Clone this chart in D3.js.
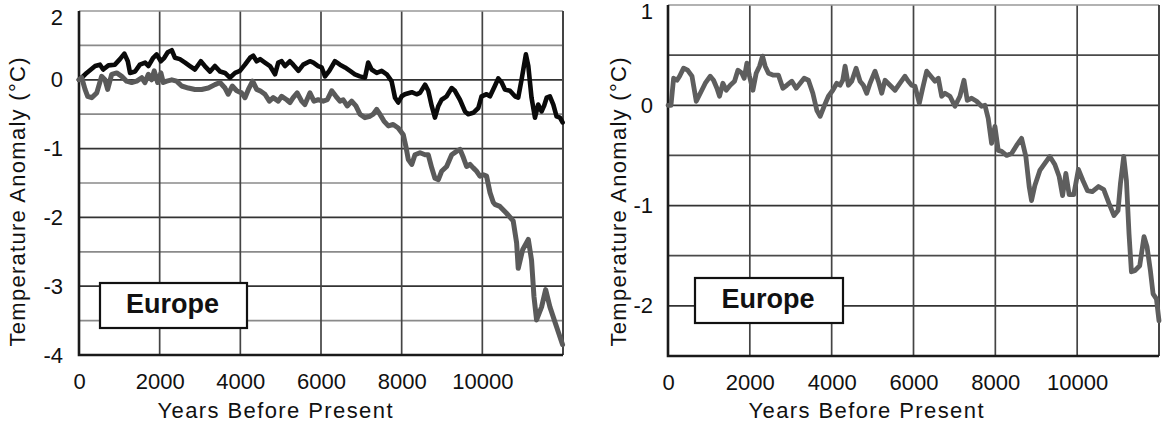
<!DOCTYPE html>
<html>
<head>
<meta charset="utf-8">
<script src="https://cdn.jsdelivr.net/npm/d3@7"></script>
<style>
    body { margin: 0; background: #fff; }
    svg { display: block; font-family: "Liberation Sans", Arial, sans-serif; }
</style>
</head>
<body>
<svg id="chart"></svg>
<script>
// years before present, temperature anomaly (°C)
let leftBlack = [
    [0, 0.0], [67, 0.03], [190, 0.1], [400, 0.2], [520, 0.22], [600, 0.15], [730, 0.21], [890, 0.22],
    [1015, 0.3], [1125, 0.38], [1210, 0.27], [1265, 0.1], [1390, 0.12], [1510, 0.22], [1640, 0.25],
    [1720, 0.2], [1840, 0.32], [1925, 0.37], [2030, 0.27], [2115, 0.32], [2200, 0.4], [2300, 0.43],
    [2380, 0.32], [2500, 0.3], [2630, 0.25], [2750, 0.2], [2875, 0.15], [3020, 0.27], [3120, 0.2],
    [3250, 0.12], [3370, 0.2], [3500, 0.12], [3620, 0.1], [3740, 0.03], [3870, 0.1], [3990, 0.13],
    [4115, 0.22], [4240, 0.32], [4320, 0.35], [4405, 0.27], [4490, 0.3], [4610, 0.25], [4735, 0.2],
    [4860, 0.08], [4940, 0.25], [5025, 0.27], [5105, 0.2], [5230, 0.27], [5310, 0.22], [5440, 0.13],
    [5560, 0.22], [5725, 0.27], [5810, 0.25], [5930, 0.2], [6015, 0.18], [6100, 0.05], [6205, 0.13],
    [6345, 0.27], [6470, 0.22], [6595, 0.18], [6720, 0.13], [6840, 0.08], [6965, 0.05], [7090, 0.03],
    [7170, 0.25], [7255, 0.15], [7380, 0.1], [7505, 0.13], [7630, 0.08], [7750, -0.02], [7835, -0.26],
    [7915, -0.33], [8000, -0.24], [8080, -0.21], [8250, -0.18], [8370, -0.21], [8455, -0.19],
    [8580, -0.07], [8660, -0.16], [8745, -0.38], [8825, -0.55], [8910, -0.38], [8990, -0.29],
    [9115, -0.24], [9240, -0.12], [9320, -0.16], [9445, -0.29], [9570, -0.46], [9650, -0.5],
    [9775, -0.48], [9900, -0.41], [9980, -0.24], [10105, -0.21], [10190, -0.24], [10310, -0.09],
    [10395, 0.02], [10480, -0.04], [10560, -0.14], [10685, -0.16], [10810, -0.24], [10890, -0.26],
    [10975, 0.01], [11080, 0.37], [11140, 0.2], [11220, -0.26], [11305, -0.55], [11385, -0.36],
    [11470, -0.46], [11530, -0.38], [11595, -0.26], [11675, -0.24], [11760, -0.36], [11840, -0.53],
    [11925, -0.55], [11990, -0.62]
];

let leftGray = [
    [0, 0.0], [67, 0.03], [150, -0.14], [215, -0.24], [315, -0.26], [440, -0.19], [560, 0.05],
    [645, 0.0], [710, -0.14], [810, 0.08], [935, 0.1], [1060, 0.05], [1180, -0.02], [1305, -0.04],
    [1430, -0.02], [1555, 0.03], [1635, -0.04], [1720, 0.08], [1800, 0.0], [1865, 0.13], [1950, -0.04],
    [2030, 0.1], [2090, -0.04], [2175, -0.02], [2300, 0.0], [2420, -0.02], [2545, -0.09], [2710, -0.12],
    [2875, -0.14], [3040, -0.14], [3205, -0.12], [3370, -0.07], [3495, -0.04], [3620, -0.12],
    [3700, -0.21], [3800, -0.09], [3910, -0.16], [4030, -0.19], [4115, -0.26], [4200, -0.14],
    [4305, -0.02], [4405, -0.14], [4490, -0.16], [4610, -0.21], [4720, -0.31], [4815, -0.26],
    [4940, -0.31], [5025, -0.24], [5150, -0.29], [5230, -0.33], [5310, -0.26], [5410, -0.19],
    [5520, -0.31], [5600, -0.36], [5725, -0.19], [5825, -0.31], [5930, -0.29], [6055, -0.31],
    [6155, -0.29], [6265, -0.16], [6370, -0.24], [6470, -0.31], [6550, -0.29], [6650, -0.38],
    [6760, -0.31], [6865, -0.38], [6965, -0.5], [7090, -0.55], [7215, -0.53], [7295, -0.5],
    [7380, -0.43], [7460, -0.5], [7560, -0.6], [7670, -0.67], [7790, -0.65], [7915, -0.7],
    [8040, -0.8], [8105, -0.97], [8165, -1.16], [8250, -1.23], [8330, -1.09], [8455, -1.06],
    [8580, -1.09], [8660, -1.09], [8745, -1.28], [8825, -1.43], [8910, -1.45], [8990, -1.33],
    [9115, -1.26], [9240, -1.09], [9360, -1.04], [9445, -1.01], [9530, -1.13], [9610, -1.26],
    [9695, -1.23], [9775, -1.28], [9860, -1.33], [9940, -1.4], [10025, -1.38], [10105, -1.4],
    [10190, -1.64], [10270, -1.78], [10310, -1.81], [10435, -1.84], [10600, -1.94], [10765, -2.05],
    [10850, -2.37], [10890, -2.74], [11000, -2.47], [11140, -2.32], [11220, -2.62], [11280, -3.15],
    [11345, -3.49], [11470, -3.3], [11570, -3.05], [11675, -3.3], [11840, -3.59], [11990, -3.85]
];

let rightGray = [
    [0, 0.0], [73, 0.0], [137, 0.27], [220, 0.25], [283, 0.29], [381, 0.37], [478, 0.35], [586, 0.29],
    [691, 0.04], [789, 0.12], [911, 0.22], [1033, 0.29], [1113, 0.25], [1196, 0.17], [1260, 0.09],
    [1342, 0.22], [1423, 0.15], [1521, 0.2], [1626, 0.24], [1709, 0.35], [1806, 0.32], [1862, 0.27],
    [1928, 0.42], [1992, 0.29], [2075, 0.15], [2155, 0.32], [2237, 0.39], [2310, 0.49], [2375, 0.39],
    [2456, 0.32], [2578, 0.3], [2700, 0.3], [2807, 0.17], [2905, 0.2], [3027, 0.24], [3132, 0.17],
    [3230, 0.22], [3327, 0.27], [3432, 0.25], [3540, 0.12], [3637, -0.05], [3718, -0.11], [3815, -0.01],
    [3920, 0.09], [4028, 0.15], [4125, 0.22], [4206, 0.2], [4272, 0.25], [4328, 0.39], [4409, 0.2],
    [4491, 0.24], [4597, 0.37], [4694, 0.24], [4775, 0.2], [4857, 0.12], [4938, 0.22], [5060, 0.34],
    [5141, 0.24], [5224, 0.12], [5304, 0.25], [5426, 0.2], [5548, 0.15], [5670, 0.22], [5792, 0.29],
    [5873, 0.24], [5955, 0.2], [6037, 0.19], [6142, 0.02], [6224, 0.17], [6322, 0.34], [6403, 0.3],
    [6525, 0.24], [6606, 0.27], [6689, 0.09], [6769, 0.12], [6891, 0.09], [7013, -0.01], [7135, 0.09],
    [7233, 0.25], [7314, 0.05], [7421, 0.07], [7543, 0.04], [7665, -0.01], [7746, 0.0], [7826, -0.13],
    [7909, -0.38], [7990, -0.21], [8071, -0.45], [8153, -0.46], [8275, -0.5], [8397, -0.48],
    [8519, -0.4], [8641, -0.33], [8746, -0.51], [8827, -0.81], [8885, -0.95], [8966, -0.8],
    [9088, -0.65], [9210, -0.58], [9332, -0.51], [9454, -0.59], [9560, -0.71], [9643, -0.9],
    [9723, -0.68], [9804, -0.89], [9918, -0.89], [10030, -0.64], [10140, -0.75], [10250, -0.85],
    [10370, -0.86], [10520, -0.81], [10650, -0.84], [10780, -0.98], [10900, -1.1], [10999, -1.05],
    [11058, -0.78], [11138, -0.51], [11204, -0.75], [11267, -1.28], [11326, -1.66], [11407, -1.65],
    [11529, -1.6], [11634, -1.31], [11707, -1.41], [11790, -1.65], [11855, -1.88], [11937, -1.93],
    [12000, -2.15]
];

let xTicks = [0, 2000, 4000, 6000, 8000, 10000];
let xGrid = [2000, 4000, 6000, 8000, 10000];

// the left panel's top label reads "2" in the source picture
let leftYTicks = [1, 0, -1, -2, -3, -4];
let leftYTickLabels = ["2", "0", "-1", "-2", "-3", "-4"];
let leftYGrid = [0.5, 0, -0.5, -1, -1.5, -2, -2.5, -3, -3.5];

let rightYTicks = [1, 0, -1, -2];
let rightYTickLabels = ["1", "0", "-1", "-2"];
let rightYGrid = [0.5, 0, -0.5, -1, -1.5, -2];

let xTitle = "Years Before Present";
let yTitle = "Temperature Anomaly (\u00b0C)";
let regionLabel = "Europe";

let svg = d3.select("#chart").attr("width", 1167).attr("height", 427);
svg.append("rect").attr("width", 1167).attr("height", 427).attr("fill", "#fff");

let panel = function (options) {
    let self = {};

    for (let key in options) {
        self[key] = options[key];
    }

    self.x = d3.scaleLinear().domain([0, 12000]).range(self.xRange);
    self.y = d3.scaleLinear().domain(self.yDomain).range(self.yRange);

    self.g = svg.append("g");

    self.drawGrid = function () {
        let [x0, x1] = self.xRange;
        let [y0, y1] = self.yRange;

        self.g.append("g")
            .selectAll("line")
            .data(self.yGrid)
            .enter()
            .append("line")
            .attr("x1", x0).attr("x2", x1)
            .attr("y1", d => self.y(d)).attr("y2", d => self.y(d))
            .style("stroke", d => (Number.isInteger(d) ? self.majorColor : self.minorColor))
            .style("stroke-width", 1.7);

        self.g.append("g")
            .selectAll("line")
            .data(xGrid)
            .enter()
            .append("line")
            .attr("x1", d => self.x(d)).attr("x2", d => self.x(d))
            .attr("y1", y0).attr("y2", y1)
            .style("stroke", "#444")
            .style("stroke-width", 1.7);

        // frame: light top, darker right, heavy left and bottom
        self.g.append("line")
            .attr("x1", x0).attr("x2", x1).attr("y1", y1).attr("y2", y1)
            .style("stroke", "#999").style("stroke-width", 1.7);
        self.g.append("line")
            .attr("x1", x1).attr("x2", x1).attr("y1", y1).attr("y2", y0)
            .style("stroke", "#444").style("stroke-width", 2);
        self.g.append("path")
            .attr("d", `M${x0},${y1}V${y0}H${x1}`)
            .style("fill", "none").style("stroke", "#1a1a1a").style("stroke-width", 2.6);
    };

    self.drawAxes = function () {
        let yAxis = d3.axisLeft(self.y)
            .tickValues(self.yTicks)
            .tickFormat((d, i) => self.yTickLabels[i])
            .tickSize(0)
            .tickPadding(self.yPad);

        let xAxis = d3.axisBottom(self.x)
            .tickValues(xTicks)
            .tickFormat(d3.format("d"))
            .tickSize(0)
            .tickPadding(18);

        let ya = self.g.append("g")
            .attr("transform", `translate(${self.xRange[0]},0)`)
            .call(yAxis);
        let xa = self.g.append("g")
            .attr("transform", `translate(0,${self.yRange[0]})`)
            .call(xAxis);

        [ya, xa].forEach(function (a) {
            a.select(".domain").remove();
            a.selectAll("text")
                .attr("font-size", "22px")
                .attr("font-family", "'Liberation Sans', Arial, sans-serif")
                .attr("fill", "#111");
        });

        // the top label sits a little below its gridline
        ya.selectAll(".tick")
            .filter(d => d === self.yDomain[1])
            .select("text")
            .attr("y", self.topShift);

        self.g.append("text")
            .text(xTitle)
            .attr("x", self.xTitleX)
            .attr("y", 418)
            .attr("text-anchor", "middle")
            .attr("font-size", "22px")
            .attr("textLength", 235)
            .attr("fill", "#111");

        self.g.append("text")
            .text(yTitle)
            .attr("transform", `translate(${self.yTitleX},202) rotate(-90)`)
            .attr("text-anchor", "middle")
            .attr("font-size", "22px")
            .attr("textLength", 289)
            .attr("fill", "#111");
    };

    self.drawSeries = function () {
        let line = d3.line()
            .x(d => self.x(d[0]))
            .y(d => self.y(d[1]));

        self.series.forEach(function (s) {
            self.g.append("path")
                .datum(s.data)
                .attr("d", line)
                .style("fill", "none")
                .style("stroke", s.color)
                .style("stroke-width", s.width)
                .style("stroke-linejoin", "round")
                .style("stroke-linecap", "round");
        });
    };

    self.drawLabel = function () {
        let b = self.labelBox;
        self.g.append("rect")
            .attr("x", b[0]).attr("y", b[1])
            .attr("width", b[2]).attr("height", b[3])
            .style("fill", "#fff")
            .style("stroke", "#111")
            .style("stroke-width", 2.2);

        self.g.append("text")
            .text(regionLabel)
            .attr("x", b[0] + b[2] / 2 - 1)
            .attr("y", b[1] + 30)
            .attr("text-anchor", "middle")
            .attr("font-size", "27px")
            .attr("font-weight", "bold")
            .attr("fill", "#111");
    };

    self.drawGrid();
    self.drawSeries();
    self.drawAxes();
    self.drawLabel();
    return self;
};

panel({
    xRange: [79, 563],
    yRange: [355, 11],
    yDomain: [-4, 1],
    yTicks: leftYTicks,
    yTickLabels: leftYTickLabels,
    yGrid: leftYGrid,
    majorColor: "#333",
    minorColor: "#8a8a8a",
    yPad: 16,
    topShift: 6,
    xTitleX: 275,
    yTitleX: 25,
    labelBox: [100, 283, 147, 45],
    series: [
        { data: leftBlack, color: "#0a0a0a", width: 4.6 },
        { data: leftGray, color: "#5a5a5a", width: 5 }
    ]
});

panel({
    xRange: [668, 1159],
    yRange: [356, 5],
    yDomain: [-2.5, 1],
    yTicks: rightYTicks,
    yTickLabels: rightYTickLabels,
    yGrid: rightYGrid,
    majorColor: "#333",
    minorColor: "#4a4a4a",
    yPad: 15,
    topShift: 6.5,
    xTitleX: 866,
    yTitleX: 626,
    labelBox: [695, 278, 148, 45],
    series: [
        { data: rightGray, color: "#5e5e5e", width: 4.8 }
    ]
});
</script>
</body>
</html>
